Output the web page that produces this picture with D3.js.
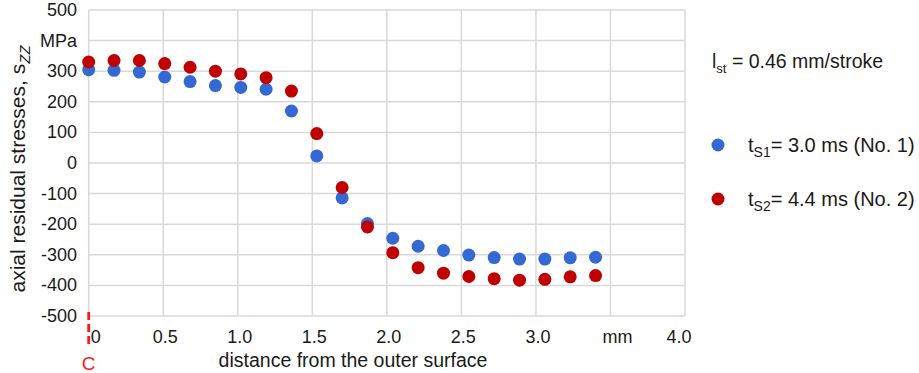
<!DOCTYPE html>
<html>
<head>
<meta charset="utf-8">
<script src="https://cdn.jsdelivr.net/npm/d3@7"></script>
<style>
  body { margin: 0; background: #fff; }
  text { font-family: "Liberation Sans", Arial, sans-serif; fill: #1a1a1a; }
</style>
</head>
<body>
<div id="container"></div>
<script>
var w = 919;
var h = 373;

// distance from the outer surface, mm
var distance = [0, 0.17, 0.34, 0.51, 0.68, 0.85, 1.02, 1.19, 1.36, 1.53, 1.70,
  1.87, 2.04, 2.21, 2.38, 2.55, 2.72, 2.89, 3.06, 3.23, 3.40];
// axial residual stresses, MPa
var stressNo1 = [305, 303, 297, 281, 266, 253, 247, 241, 170, 23, -114,
  -198, -246, -272, -286, -301, -309, -314, -314, -310, -308];
var stressNo2 = [330, 335, 335, 325, 313, 300, 291, 279, 235, 96, -80,
  -209, -293, -342, -360, -371, -378, -383, -380, -372, -368];

var xTicks = [0, 0.5, 1.0, 1.5, 2.0, 2.5, 3.0, 3.5, 4.0];
var xTickLabels = ["0", "0.5", "1.0", "1.5", "2.0", "2.5", "3.0", "mm", "4.0"];
var yTicks = [500, 400, 300, 200, 100, 0, -100, -200, -300, -400, -500];
var yTickLabels = ["500", "MPa", "300", "200", "100", "0", "-100", "-200", "-300", "-400", "-500"];

var blue = "#3468d2";
var red = "#c00000";

var svg = d3.select("div#container").append("svg")
    .attr("width", w)
    .attr("height", h)
    .style("background-color", "#fff");

var x = d3.scaleLinear().domain([0, 4]).range([88.7, 685]);
var y = d3.scaleLinear().domain([-500, 500]).range([316, 10]);

// grid
svg.append("g").selectAll("line.v")
  .data(xTicks)
  .enter().append("line")
  .attr("x1", function(d) { return x(d); })
  .attr("x2", function(d) { return x(d); })
  .attr("y1", y(500))
  .attr("y2", y(-500))
  .style("stroke", "#d9d9d9")
  .style("stroke-width", 1.5);

svg.append("g").selectAll("line.h")
  .data(yTicks)
  .enter().append("line")
  .attr("x1", x(0))
  .attr("x2", x(4))
  .attr("y1", function(d) { return y(d); })
  .attr("y2", function(d) { return y(d); })
  .style("stroke", "#d9d9d9")
  .style("stroke-width", 1.5);

// y tick labels
svg.append("g").selectAll("text")
  .data(yTicks)
  .enter().append("text")
  .attr("x", 77)
  .attr("y", function(d) { return y(d) + 6; })
  .attr("text-anchor", "end")
  .style("font-size", "18px")
  .text(function(d, i) { return yTickLabels[i]; });

// x tick labels
svg.append("g").selectAll("text")
  .data(xTicks)
  .enter().append("text")
  .attr("x", function(d, i) { return x(d) + (i == 0 ? 7 : (i == 7 ? 7 : (i == 8 ? -6 : 2))); })
  .attr("y", 343)
  .attr("text-anchor", "middle")
  .style("font-size", "18px")
  .text(function(d, i) { return xTickLabels[i]; });

// axis titles
svg.append("text")
  .attr("x", 353)
  .attr("y", 367)
  .attr("text-anchor", "middle")
  .style("font-size", "19.5px")
  .text("distance from the outer surface");

var yt = svg.append("text")
  .attr("transform", "translate(25,169) rotate(-90)")
  .attr("text-anchor", "middle")
  .style("font-size", "21px");
yt.append("tspan").text("axial residual stresses, s");
yt.append("tspan").attr("dy", 5).style("font-size", "15px").style("font-style", "italic").text("ZZ");

// red marker at surface
svg.append("line")
  .attr("x1", x(0))
  .attr("x2", x(0))
  .attr("y1", 312)
  .attr("y2", 347)
  .style("stroke", "#ff1a1a")
  .style("stroke-width", 2.8)
  .style("stroke-dasharray", "8,4");

svg.append("text")
  .attr("x", x(0))
  .attr("y", 370)
  .attr("text-anchor", "middle")
  .style("font-size", "19px")
  .style("fill", "#ff1a1a")
  .text("C");

// points
svg.append("g").selectAll("circle")
  .data(distance)
  .enter().append("circle")
  .attr("cx", function(d) { return x(d); })
  .attr("cy", function(d, i) { return y(stressNo1[i]); })
  .attr("r", 6.5)
  .style("fill", blue);

svg.append("g").selectAll("circle")
  .data(distance)
  .enter().append("circle")
  .attr("cx", function(d) { return x(d); })
  .attr("cy", function(d, i) { return y(stressNo2[i]); })
  .attr("r", 6.5)
  .style("fill", red);

// legend
var lst = svg.append("text")
  .attr("x", 712)
  .attr("y", 68)
  .style("font-size", "19.5px");
lst.append("tspan").text("l");
lst.append("tspan").attr("dy", 5).style("font-size", "13px").text("st");
lst.append("tspan").attr("dy", -5).text(" = 0.46 mm/stroke");

var legend = [
  { color: blue, sub: "S1", label: "= 3.0 ms (No. 1)", y: 145 },
  { color: red, sub: "S2", label: "= 4.4 ms (No. 2)", y: 199 }
];

var lg = svg.append("g").selectAll("g")
  .data(legend)
  .enter().append("g");

lg.append("circle")
  .attr("cx", 718)
  .attr("cy", function(d) { return d.y; })
  .attr("r", 6.5)
  .style("fill", function(d) { return d.color; });

var lt = lg.append("text")
  .attr("x", 748)
  .attr("y", function(d) { return d.y + 7; })
  .style("font-size", "20px");
lt.append("tspan").text("t");
lt.append("tspan").attr("dy", 5).style("font-size", "14px").text(function(d) { return d.sub; });
lt.append("tspan").attr("dy", -5).text(function(d) { return d.label; });
</script>
</body>
</html>
